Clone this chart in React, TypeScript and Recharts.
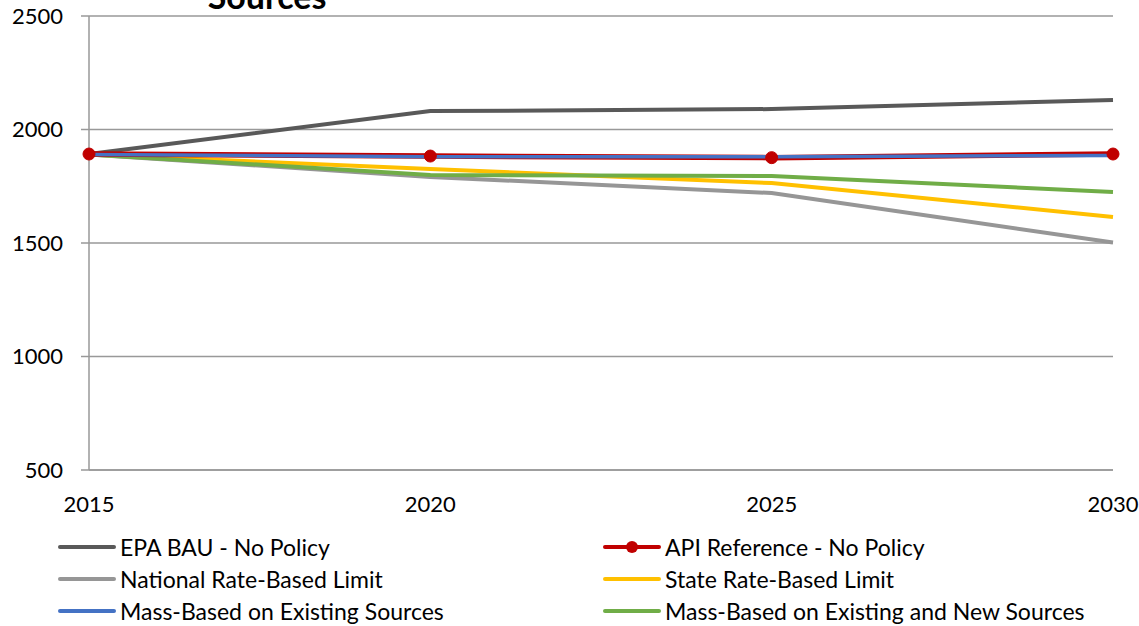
import { LineChart, Line, XAxis, YAxis, CartesianGrid } from "recharts";

const years = ["2015", "2020", "2025", "2030"];
const epaBau = [1892, 2081, 2090, 2130];
const apiReference = [1892, 1883, 1876, 1892];
const nationalRate = [1890, 1791, 1720, 1502];
const stateRate = [1890, 1826, 1764, 1615];
const massExisting = [1890, 1880, 1880, 1886];
const massExistingNew = [1890, 1800, 1795, 1725];
const yTicks = [500, 1000, 1500, 2000, 2500];

const series = [
  { key: "epa", name: "EPA BAU - No Policy", color: "#595959", values: epaBau, width: 4, dot: false },
  { key: "national", name: "National Rate-Based Limit", color: "#969696", values: nationalRate, width: 4, dot: false },
  { key: "state", name: "State Rate-Based Limit", color: "#FFC000", values: stateRate, width: 4, dot: false },
  { key: "green", name: "Mass-Based on Existing and New Sources", color: "#70AD47", values: massExistingNew, width: 4, dot: false },
  { key: "api", name: "API Reference - No Policy", color: "#C00000", values: apiReference, width: 5.5, dot: true },
  { key: "blue", name: "Mass-Based on Existing Sources", color: "#4472C4", values: massExisting, width: 3.5, dot: false },
];

const legendOrder = [
  ["epa", "api"],
  ["national", "state"],
  ["blue", "green"],
];

const data = years.map((y, i) => {
  const row: Record<string, number | string> = { year: y };
  series.forEach((s) => {
    row[s.key] = s.values[i];
  });
  return row;
});

const font = "Lato, 'Open Sans', sans-serif";

const LegendItem = ({ k }: { k: string }) => {
  const s = series.find((x) => x.key === k)!;
  return (
    <div style={{ display: "flex", alignItems: "center", height: 32 }}>
      <svg width={58} height={16} style={{ marginRight: 4 }}>
        <line x1={2} y1={8} x2={56} y2={8} stroke={s.color} strokeWidth={4} strokeLinecap="round" />
        {s.dot && <circle cx={29} cy={8} r={6} fill={s.color} />}
      </svg>
      <span>{s.name}</span>
    </div>
  );
};

export default function App() {
  return (
    <div style={{ position: "absolute", left: 0, top: 0, width: 1139, height: 626, overflow: "hidden", background: "#fff", fontFamily: font }}>
      <LineChart width={1139} height={626} data={data} margin={{ top: 16, right: 26, left: 0, bottom: 126 }}>
        <text x={267} y={9} textAnchor="middle" fontSize={34} fontWeight={700} fill="#000" fontFamily={font}>
          Sources
        </text>
        <CartesianGrid vertical={false} stroke="#999" strokeWidth={1.5} />
        <XAxis
          dataKey="year"
          axisLine={{ stroke: "#999", strokeWidth: 1.5 }}
          tickLine={false}
          tickMargin={20}
          height={30}
          tick={{ fontSize: 22, fill: "#000", fontFamily: font }}
        />
        <YAxis
          domain={[500, 2500]}
          ticks={yTicks}
          width={89}
          axisLine={{ stroke: "#999", strokeWidth: 1.5 }}
          tickLine={{ stroke: "#999", strokeWidth: 1.5 }}
          tickSize={8}
          tickMargin={18}
          tick={{ fontSize: 22, fill: "#000", fontFamily: font }}
        />
        {series.map((s) => (
          <Line
            key={s.key}
            dataKey={s.key}
            name={s.name}
            stroke={s.color}
            strokeWidth={s.width}
            dot={s.dot ? { r: 6, fill: s.color, stroke: s.color, strokeWidth: 1 } : false}
            activeDot={false}
            isAnimationActive={false}
          />
        ))}
      </LineChart>
      <div style={{ position: "absolute", left: 58, top: 531, fontSize: 23, color: "#000", width: 1081 }}>
        {legendOrder.map((row, i) => (
          <div key={i} style={{ display: "flex" }}>
            <div style={{ width: 545 }}>
              <LegendItem k={row[0]} />
            </div>
            <LegendItem k={row[1]} />
          </div>
        ))}
      </div>
    </div>
  );
}
